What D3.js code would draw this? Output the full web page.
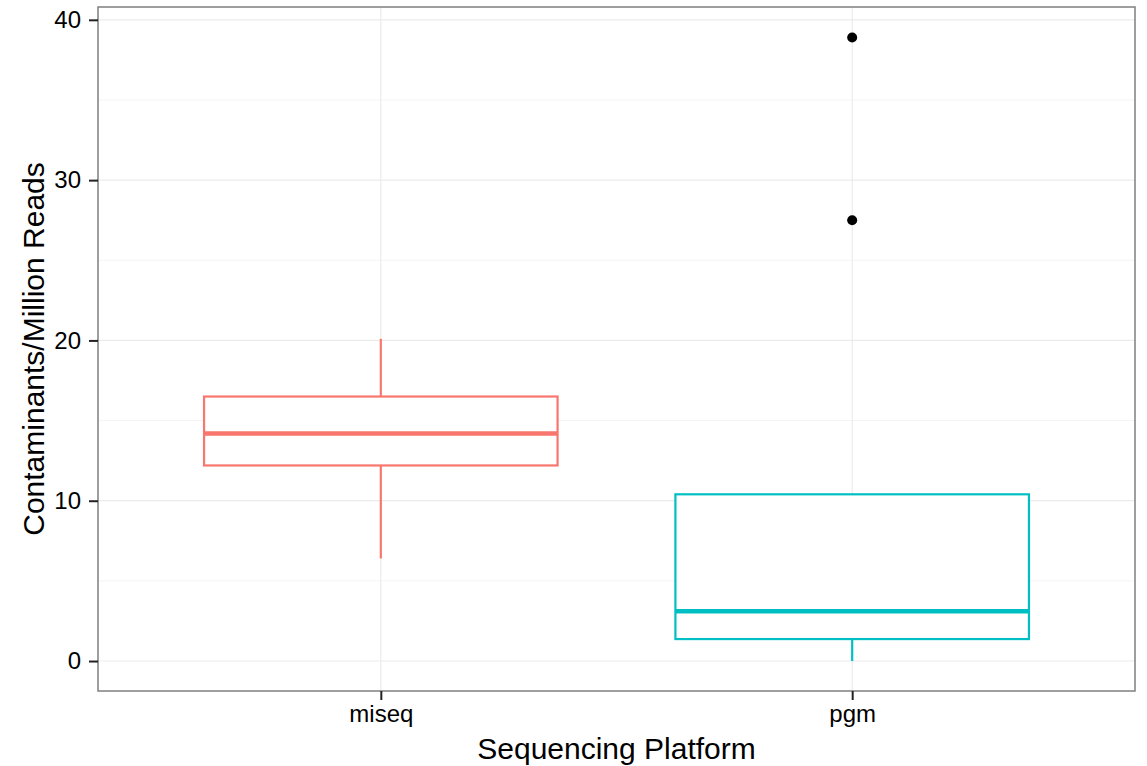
<!DOCTYPE html>
<html>
<head>
<meta charset="utf-8">
<script src="https://cdn.jsdelivr.net/npm/d3@7"></script>
<style>
  body { margin: 0; background: #fff; }
  text { font-family: "Liberation Sans", Arial, sans-serif; }
</style>
</head>
<body>
<div id="chart-area"></div>
<script>
// data
const platforms = ["miseq", "pgm"];
const lowerWhisker = [6.4, 0];
const q1Values = [12.2, 1.37];
const medianValues = [14.2, 3.1];
const q3Values = [16.5, 10.4];
const upperWhisker = [20.1, 10.4];
const outlierPlatform = ["pgm", "pgm"];
const outlierValues = [38.9, 27.5];
const yTicks = [0, 10, 20, 30, 40];
const yMinorTicks = [5, 15, 25, 35];

const colors = {miseq: "#F8766D", pgm: "#00BFC4"};

const width = 1147;
const height = 766;
const margin = {left: 98, right: 12, top: 7, bottom: 75};
const innerW = width - margin.left - margin.right;
const innerH = height - margin.top - margin.bottom;

const svg = d3.select("#chart-area")
  .append("svg")
  .attr("width", width)
  .attr("height", height);

const g = svg.append("g")
  .attr("transform", "translate(" + margin.left + "," + margin.top + ")");

// scales
const x = d3.scalePoint()
  .domain(platforms)
  .range([0, innerW])
  .padding(0.6);

const step = x.step();
const boxW = step * 0.75;

const y = d3.scaleLinear()
  .domain([-1.87, 40.8])
  .range([innerH, 0]);

// grid
g.selectAll(".minor")
  .data(yMinorTicks)
  .enter().append("line")
  .attr("x1", 0).attr("x2", innerW)
  .attr("y1", d => y(d)).attr("y2", d => y(d))
  .attr("stroke", "#f4f4f4")
  .attr("stroke-width", 1);

g.selectAll(".major")
  .data(yTicks)
  .enter().append("line")
  .attr("x1", 0).attr("x2", innerW)
  .attr("y1", d => y(d)).attr("y2", d => y(d))
  .attr("stroke", "#ebebeb")
  .attr("stroke-width", 1.2);

g.selectAll(".vgrid")
  .data(platforms)
  .enter().append("line")
  .attr("x1", d => x(d)).attr("x2", d => x(d))
  .attr("y1", 0).attr("y2", innerH)
  .attr("stroke", "#ebebeb")
  .attr("stroke-width", 1.2);

// boxes
const boxData = platforms.map((p, i) => ({
  p: p, lo: lowerWhisker[i], q1: q1Values[i], med: medianValues[i],
  q3: q3Values[i], hi: upperWhisker[i]
}));

const boxes = g.selectAll(".box")
  .data(boxData)
  .enter().append("g");

boxes.append("line")
  .attr("x1", d => x(d.p)).attr("x2", d => x(d.p))
  .attr("y1", d => y(d.hi)).attr("y2", d => y(d.q3))
  .attr("stroke", d => colors[d.p])
  .attr("stroke-width", 2.2);

boxes.append("line")
  .attr("x1", d => x(d.p)).attr("x2", d => x(d.p))
  .attr("y1", d => y(d.q1)).attr("y2", d => y(d.lo))
  .attr("stroke", d => colors[d.p])
  .attr("stroke-width", 2.2);

boxes.append("rect")
  .attr("x", d => x(d.p) - boxW / 2)
  .attr("width", boxW)
  .attr("y", d => y(d.q3))
  .attr("height", d => y(d.q1) - y(d.q3))
  .attr("fill", "white")
  .attr("stroke", d => colors[d.p])
  .attr("stroke-width", 2.2);

boxes.append("line")
  .attr("x1", d => x(d.p) - boxW / 2).attr("x2", d => x(d.p) + boxW / 2)
  .attr("y1", d => y(d.med)).attr("y2", d => y(d.med))
  .attr("stroke", d => colors[d.p])
  .attr("stroke-width", 4.5);

// outliers
g.selectAll(".outlier")
  .data(outlierValues)
  .enter().append("circle")
  .attr("cx", (d, i) => x(outlierPlatform[i]))
  .attr("cy", d => y(d))
  .attr("r", 5)
  .attr("fill", "black");

// panel border
g.append("rect")
  .attr("width", innerW)
  .attr("height", innerH)
  .attr("fill", "none")
  .attr("stroke", "#7f7f7f")
  .attr("stroke-width", 1.5);

// axes
const yAxis = d3.axisLeft(y).tickValues(yTicks).tickSize(9).tickPadding(8);
const yAxisGroup = g.append("g").call(yAxis);

const xAxis = d3.axisBottom(x).tickSize(9).tickPadding(5);
const xAxisGroup = g.append("g")
  .attr("transform", "translate(0," + innerH + ")")
  .call(xAxis);

g.selectAll(".domain").remove();
g.selectAll(".tick line").attr("stroke", "#222").attr("stroke-width", 2);
g.selectAll(".tick text")
  .attr("fill", "black")
  .attr("font-size", "24px")
  .style("font-family", "'Liberation Sans', Arial, sans-serif");

// axis labels
svg.append("text")
  .attr("x", margin.left + innerW / 2)
  .attr("y", 759)
  .attr("text-anchor", "middle")
  .attr("font-size", "30px")
  .attr("fill", "black")
  .text("Sequencing Platform");

svg.append("text")
  .attr("transform", "translate(44," + (margin.top + innerH / 2) + ") rotate(-90)")
  .attr("text-anchor", "middle")
  .attr("font-size", "30px")
  .attr("fill", "black")
  .text("Contaminants/Million Reads");
</script>
</body>
</html>
